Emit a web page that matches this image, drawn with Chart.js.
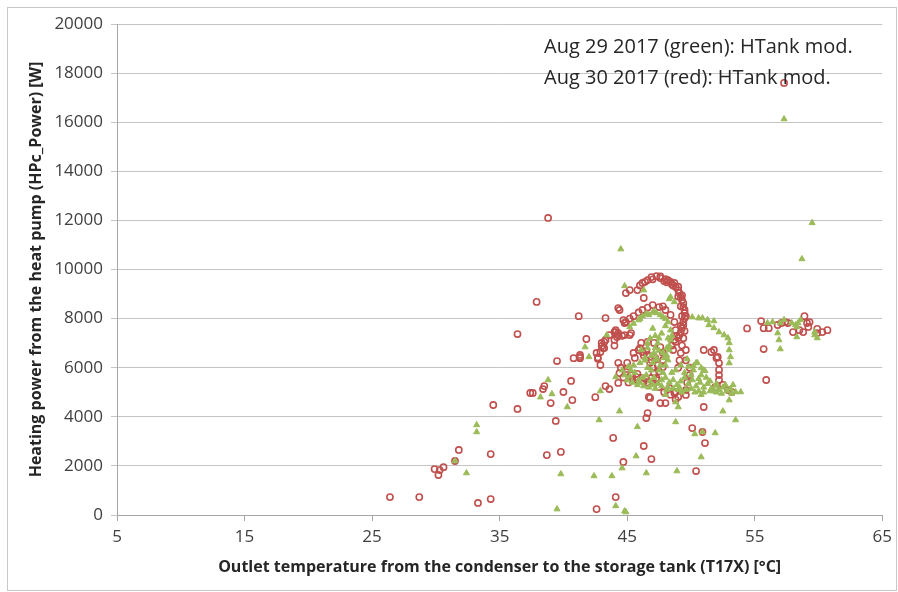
<!DOCTYPE html>
<html>
<head>
<meta charset="utf-8">
<script src="https://cdn.jsdelivr.net/npm/chart.js@4/dist/chart.umd.min.js"></script>
<style>
  html, body { margin: 0; padding: 0; background: #fff; }
  #wrap { width: 898px; height: 592px; position: relative; }
</style>
</head>
<body>
<div id="wrap"><canvas id="scatter" width="898" height="592"></canvas></div>
<script>
// Aug 29 2017 (green triangles) - [temperature, power]
var aug29 = [
    [31.5,2200],[32.4,1710],[33.2,3670],[33.2,3380],[38.2,4800],[38.8,5500],[39.1,4930],[39.5,240],
    [39.8,1670],[40.3,4400],[41.7,6840],[42.0,6440],[42.4,1590],[42.8,3870],[42.9,5050],[43.4,7330],
    [43.8,1590],[44.1,5620],[44.1,370],[44.4,4230],[44.5,10830],[44.6,1910],[44.8,160],[44.9,120],
    [45.7,2400],[45.8,3590],[46.5,1710],[48.8,3790],[48.9,1790],[50.3,3300],[50.8,2360],[50.9,3380],
    [51.9,3340],[53.5,3870],[57.3,16130],[59.5,11900],[58.7,10430],
    [44.8,9330],[46.3,9160],[48.4,8880],[48.7,8680],[48.3,8800],
    [45.2,7660],[45.9,7940],[46.7,8150],[47.3,8230],[47.8,8060],[48.2,7860],[48.4,7530],[48.4,7130],
    [48.3,6720],[48.2,6310],[46.2,8100],[47.0,8250],[48.0,8000],[48.5,7300],[48.3,6900],[48.1,6500],
    [45.5,7800],[46.0,8000],[46.5,8200],[47.1,8300],[47.6,8150],[48.0,7700],[48.2,7200],[48.1,6800],
    [48.0,6100],[46.8,7200],[46.6,7000],[46.9,6500],[46.4,6400],[47.9,6400],
    [47.0,7600],[47.2,7300],[47.4,7000],[47.5,6700],[47.3,6400],[47.6,6100],[47.8,5800],[47.2,6800],
    [47.5,7200],[47.0,6200],[47.8,6600],[47.7,7400],[46.1,6720],[46.6,6800],[47.1,6600],[47.3,6310],
    [44.8,5700],[45.2,5650],[45.6,5800],[45.9,5500],[46.2,5600],[46.5,5700],[46.8,5450],[47.1,5600],
    [47.4,5350],[47.7,5500],[48.0,5600],[48.3,5400],[48.6,5500],[48.9,5300],[49.2,5450],[49.5,5600],
    [49.8,5350],[50.1,5500],[50.4,5250],[50.7,5400],[51.0,5200],[51.3,5350],[51.6,5150],[51.9,5250],
    [52.2,5100],[52.5,5200],[52.8,5050],[53.1,5150],[53.5,5010],[53.9,5010],[46.0,5400],[47.0,5300],
    [48.2,5200],[49.0,5100],[50.0,5150],[50.6,5050],[51.5,5050],[52.0,5000],[49.5,5800],[50.2,5900],
    [50.8,5700],[51.2,5600],[48.5,5800],[47.5,5900],[46.6,6000],[45.3,5900],[49.8,6050],[51.0,5900],
    [50.5,6200],[49.3,5000],[48.0,4900],[48.8,4600],[49.0,4400],[52.5,4230],[53.0,4680],[50.8,4900],
    [45.0,5500],[45.4,5400],[45.8,5300],[46.3,5250],[46.7,5200],[47.2,5150],[47.7,5250],[48.1,5100],
    [48.6,5150],[49.1,5200],[49.6,5100],[50.3,5000],[51.0,5000],[51.8,5050],[52.4,4950],[53.2,4950],
    [45.5,6100],[46.0,6200],[46.4,6300],[46.9,5900],[48.8,5900],[49.2,6100],[50.0,5700],[50.6,5550],
    [51.5,5450],[52.0,5350],[52.7,5300],[53.3,5300],[44.6,5900],[45.1,6050],
    [50.1,8060],[50.6,8020],[50.9,8020],[51.4,7740],[51.8,7620],[52.2,7450],[52.6,7330],[52.9,7210],
    [53.0,7010],[53.0,6720],[53.1,6440],[53.0,6190],[51.3,7950],[51.8,7900],
    [50.4,6190],[50.2,6070],[49.7,6350],[50.8,5990],[51.1,5870],
    [56.0,7820],[56.4,7860],[57.0,7820],[56.8,7410],[56.9,7130],[57.0,6760],[57.9,7820],[58.2,7740],
    [58.3,7660],[58.4,7820],[58.3,7250],[59.7,7450],[59.7,7330],[59.9,7210],[57.3,7950],[58.6,7950]
];

// Aug 30 2017 (red circles) - [temperature, power]
var aug30 = [
    [26.4,730],[28.7,730],[29.9,1870],[30.3,1830],[30.6,1950],[30.2,1630],[31.8,2650],[31.5,2200],
    [33.3,490],[34.3,650],[34.3,2480],[34.5,4480],[36.4,4320],[36.4,7370],[37.4,4970],[37.6,4970],
    [37.9,8680],[38.4,5130],[38.5,5250],[38.8,12100],[38.7,2440],[39.0,4560],[39.4,3830],[39.5,6270],
    [39.8,2570],[40.0,5010],[40.6,5460],[40.7,4680],[40.8,6390],[41.2,8100],[41.3,6440],[41.3,6390],
    [41.8,7170],[42.5,4800],[42.6,240],[42.7,6420],[42.7,6360],[42.9,6110],[43.0,6880],[43.1,6800],
    [43.2,7050],[43.3,8020],[43.3,5250],[43.6,5130],[43.9,3140],[44.1,7450],[44.1,730],[44.3,5380],
    [44.4,5780],[44.7,2160],[46.6,4150],[46.5,3950],[46.3,2810],[46.9,2280],[50.1,3540],[50.9,3380],
    [51.1,2930],[50.4,1790],[55.9,5500],[57.3,17600],
    [46.2,9450],[46.6,9570],[46.9,9690],[47.3,9730],[47.6,9650],[47.9,9530],[48.2,9570],[48.4,9490],
    [48.7,9450],[48.8,9290],[49.0,9160],[49.1,9040],[49.2,8880],[49.3,8760],[49.4,8630],[49.4,8470],
    [49.5,8350],[49.5,8230],[49.5,8020],[49.4,7860],[49.4,7740],[49.3,7620],[49.2,7450],[49.1,7330],
    [49.0,7210],[48.8,7050],[48.0,9610],[48.5,9400],[49.0,9300],[49.3,8950],[49.6,8100],
    [46.0,9350],[46.4,9500],[47.0,9600],[47.6,9720],[48.1,9480],[48.6,9350],[49.0,8900],[49.2,8500],
    [49.3,8100],[49.2,7700],
    [44.9,9040],[45.2,9160],[45.8,9160],[44.4,8350],[44.3,8430],[46.3,8840],[44.7,7940],[44.8,7820],
    [43.6,7330],[43.3,7130],
    [44.9,7860],[45.5,8100],[46.2,8350],[46.6,8450],[47.0,8550],[47.5,8470],[48.0,8350],[48.4,8150],
    [48.7,7860],[48.8,7530],[48.7,7130],[48.6,6720],[45.2,8000],[45.9,8250],[47.8,8500],[48.9,7300],
    [48.5,6900],
    [46.1,7010],[46.6,7050],[47.1,7010],[47.6,6840],[47.8,6600],[47.8,6310],[47.8,6030],
    [44.1,7530],[44.3,7330],[44.0,7130],[43.0,7010],[43.2,6800],[42.9,6640],[41.3,6520],[42.6,6600],
    [44.2,7250],[44.6,7300],[45.2,7330],[44.0,6900],[44.0,7450],[44.3,7410],[44.8,7330],[45.3,7410],
    [45.5,6600],[45.9,6720],[46.2,6640],[46.6,6520],[46.9,6310],[47.0,6030],[47.1,5780],[47.3,5580],
    [46.0,6800],[46.5,6680],[47.2,6400],[47.4,6100],[47.5,5850],
    [44.9,5820],[45.3,5700],[45.7,5620],[46.1,5580],[46.5,5540],[46.9,5580],[47.3,5500],[45.0,5950],
    [45.4,5500],[45.8,5750],[46.3,5450],[44.7,5600],[45.1,5400],
    [44.5,6000],[45.0,6200],[45.6,6400],[46.3,6500],[46.8,6200],[45.8,5500],[46.6,5400],[44.3,6200],
    [49.5,7500],[49.4,7200],[49.3,6900],[49.2,6600],[49.1,6300],[49.0,6000],
    [49.6,6720],[51.0,6720],[51.8,6720],[52.1,6440],[52.2,6190],[52.2,5910],[52.2,5700],[52.2,5500],
    [51.9,5210],[52.5,5300],[52.9,5090],[53.2,5010],[51.6,6640],[52.0,6400],
    [47.5,5210],[48.3,5170],[48.8,5010],[49.0,4810],[49.6,4890],[47.6,4560],[48.0,4560],[48.8,4700],
    [51.0,4400],[46.8,4770],[49.6,5090],[48.7,4970],[46.7,4810],[47.9,5000],[48.4,4900],[49.6,6300],
    [49.9,6000],[49.9,5700],[49.7,5400],
    [54.4,7600],[55.5,7900],[55.7,7610],[56.1,7610],[56.8,7740],[57.1,7820],[57.4,7860],[57.6,7820],
    [58.0,7450],[58.5,7530],[58.8,7450],[58.9,8100],[59.1,7820],[59.2,7660],[59.3,7860],[59.9,7580],
    [59.9,7410],[60.3,7450],[60.7,7530],[55.7,6760]
];

var xTicks = [5, 15, 25, 35, 45, 55, 65];
var noteLines = ['Aug 29 2017 (green): HTank mod.', 'Aug 30 2017 (red): HTank mod.'];

function toPoints(list) {
    return list.map(function(p) { return {x: p[0], y: p[1]}; });
}

// frame round the picture + the two note lines in the top right
var decor = {
    id: 'decor',
    beforeDraw: function(chart) {
        var c = chart.ctx;
        c.save();
        c.strokeStyle = '#c8c8c8';
        c.lineWidth = 1;
        c.strokeRect(7.5, 7.5, 889, 583);
        c.restore();
    },
    afterDraw: function(chart) {
        var c = chart.ctx;
        c.save();
        c.fillStyle = '#262626';
        c.font = '20px "Open Sans"';
        c.textBaseline = 'alphabetic';
        c.fillText(noteLines[0], 544, 53);
        c.fillText(noteLines[1], 544, 84);
        c.restore();
    }
};

var tickFont = { family: 'Open Sans', size: 17 };
var titleFont = { family: 'Open Sans', size: 16, weight: 'bold' };

var ctx = document.getElementById('scatter');
var myChart = new Chart(ctx, {
    type: 'scatter',
    data: {
        datasets: [
            {
                label: 'Aug 29 2017',
                data: toPoints(aug29),
                pointStyle: 'triangle',
                pointRadius: 3.5,
                backgroundColor: '#9bbb59',
                borderColor: '#9bbb59',
                borderWidth: 1
            },
            {
                label: 'Aug 30 2017',
                data: toPoints(aug30),
                pointStyle: 'circle',
                pointRadius: 3.1,
                backgroundColor: 'rgba(255,255,255,0)',
                borderColor: '#c0504d',
                borderWidth: 1.6
            }
        ]
    },
    options: {
        responsive: false,
        animation: false,
        layout: { padding: { left: 0, right: 10, top: 24, bottom: 0 } },
        plugins: {
            legend: { display: false },
            tooltip: { enabled: false }
        },
        scales: {
            x: {
                type: 'linear',
                min: 5,
                max: 65,
                afterBuildTicks: function(scale) {
                    scale.ticks = xTicks.map(function(v) { return {value: v}; });
                },
                afterFit: function(scale) { scale.height = 77; },
                ticks: { color: '#404040', font: tickFont, padding: 6 },
                grid: { drawOnChartArea: false, drawTicks: true, tickLength: 6, color: '#a6a6a6' },
                border: { color: '#a6a6a6' },
                title: {
                    display: true,
                    text: 'Outlet temperature from the condenser to the storage tank (T17X) [°C]',
                    color: '#262626',
                    font: titleFont,
                    padding: { top: 4, bottom: 15 }
                }
            },
            y: {
                min: 0,
                max: 20000,
                ticks: {
                    stepSize: 2000,
                    color: '#404040',
                    font: tickFont,
                    padding: 8,
                    callback: function(v) { return String(v); }
                },
                afterFit: function(scale) { scale.width = 117; },
                grid: { color: '#c4c4c4', tickLength: 6 },
                border: { color: '#a6a6a6' },
                title: {
                    display: true,
                    text: 'Heating power from the heat pump (HPc_Power) [W]',
                    color: '#262626',
                    font: titleFont,
                    padding: { top: 27, bottom: 0 }
                }
            }
        }
    },
    plugins: [decor]
});
</script>
</body>
</html>
